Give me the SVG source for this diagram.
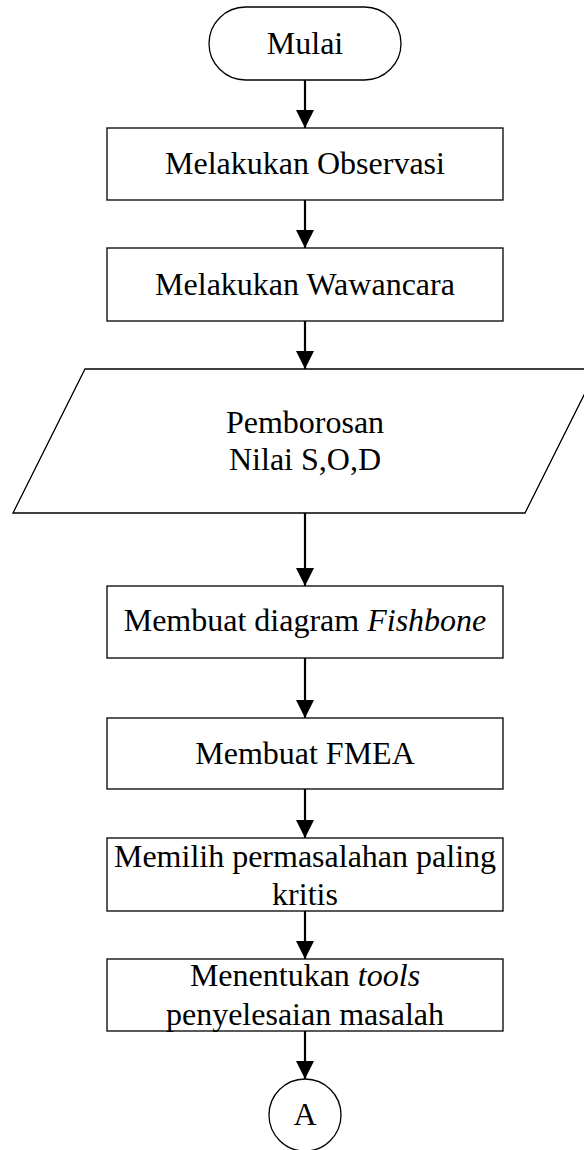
<svg xmlns="http://www.w3.org/2000/svg" width="584" height="1150" viewBox="0 0 584 1150">
<style>
.shape{fill:#fff;stroke:#000;stroke-width:1.3}
.t{font-family:"Liberation Serif","Times New Roman",serif;font-size:32px;fill:#000;text-anchor:middle}
.i{font-style:italic}
.c{stroke:#000;stroke-width:2.2;fill:none}
</style>
<defs>
<marker id="arr" markerUnits="userSpaceOnUse" markerWidth="18" markerHeight="18" refX="18" refY="9" orient="auto" viewBox="0 0 18 18">
<path d="M0,0 L18,9 L0,18 Z" fill="#000"/>
</marker>
</defs>
<rect width="584" height="1150" fill="#fff"/>
<g id="connectors">
<line class="c" x1="305" y1="80" x2="305" y2="128" marker-end="url(#arr)"/>
<line class="c" x1="305" y1="200" x2="305" y2="248" marker-end="url(#arr)"/>
<line class="c" x1="305" y1="321" x2="305" y2="369" marker-end="url(#arr)"/>
<line class="c" x1="305" y1="513" x2="305" y2="586" marker-end="url(#arr)"/>
<line class="c" x1="305" y1="658" x2="305" y2="718" marker-end="url(#arr)"/>
<line class="c" x1="305" y1="789" x2="305" y2="838" marker-end="url(#arr)"/>
<line class="c" x1="305" y1="911" x2="305" y2="959" marker-end="url(#arr)"/>
<line class="c" x1="305" y1="1031" x2="305" y2="1079" marker-end="url(#arr)"/>
</g>
<g id="mulai">
<rect class="shape" x="209" y="7" width="192" height="73" rx="36.5" ry="36.5" stroke-width="1.8"/>
<text class="t" x="305" y="54">Mulai</text>
</g>
<g id="observasi">
<rect class="shape" x="107" y="128" width="396" height="72"/>
<text class="t" x="305" y="174">Melakukan Observasi</text>
</g>
<g id="wawancara">
<rect class="shape" x="107" y="248" width="396" height="73"/>
<text class="t" x="305" y="295">Melakukan Wawancara</text>
</g>
<g id="pemborosan">
<polygon class="shape" points="85,369 597,369 525,513 13,513"/>
<text class="t" x="305" y="433">Pemborosan</text>
<text class="t" x="305" y="470">Nilai S,O,D</text>
</g>
<g id="fishbone">
<rect class="shape" x="107" y="586" width="396" height="72"/>
<text class="t" x="305" y="631">Membuat diagram <tspan class="i">Fishbone</tspan></text>
</g>
<g id="fmea">
<rect class="shape" x="107" y="718" width="396" height="71"/>
<text class="t" x="305" y="764">Membuat FMEA</text>
</g>
<g id="memilih">
<rect class="shape" x="107" y="838" width="396" height="73"/>
<text class="t" x="305" y="867">Memilih permasalahan paling</text>
<text class="t" x="305" y="905">kritis</text>
</g>
<g id="menentukan">
<rect class="shape" x="107" y="959" width="396" height="72"/>
<text class="t" x="305" y="986">Menentukan <tspan class="i">tools</tspan></text>
<text class="t" x="305" y="1025">penyelesaian masalah</text>
</g>
<g id="a">
<circle class="shape" cx="305" cy="1115" r="36"/>
<text class="t" x="305" y="1125">A</text>
</g>
</svg>
